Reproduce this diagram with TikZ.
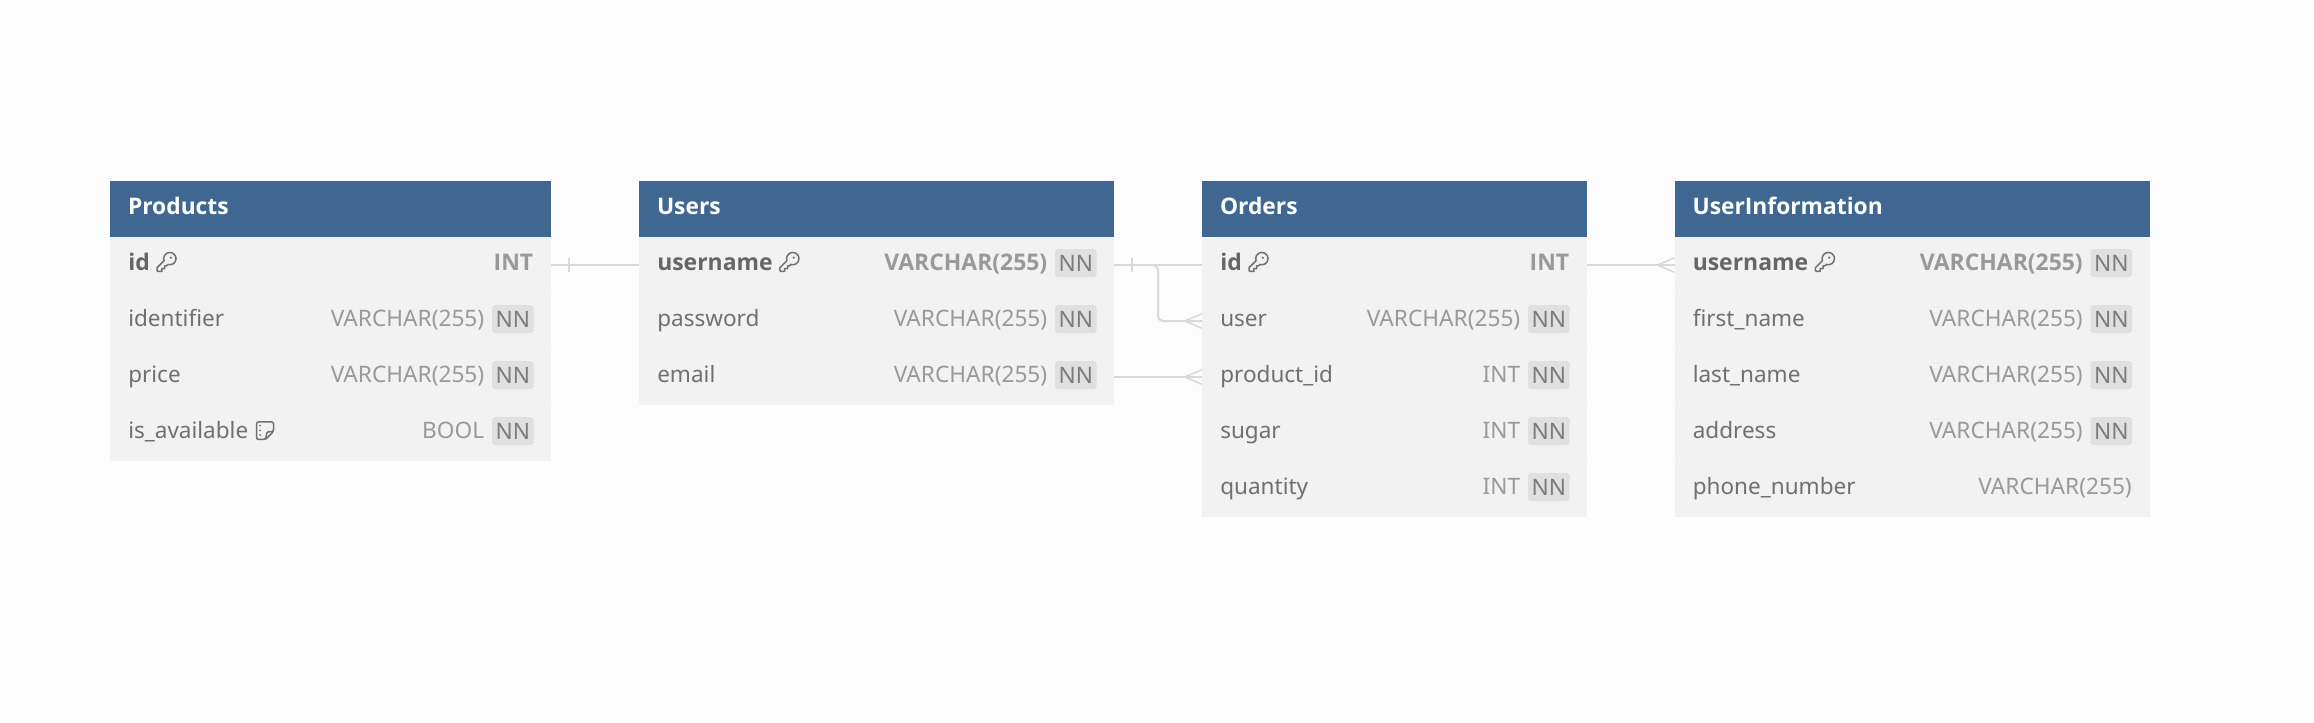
\documentclass[tikz,border=0pt]{standalone}
\usepackage{fontspec}
\setmainfont{Noto Sans}
\newfontfamily\heavyface{Open Sans}
\usetikzlibrary{calc}
\definecolor{pagebg}{HTML}{FCFCFC}
\definecolor{headblue}{HTML}{406791}
\definecolor{rowgray}{HTML}{F2F2F2}
\definecolor{rowrule}{HTML}{F4F4F4}
\definecolor{namegray}{HTML}{707070}
\definecolor{boldgray}{HTML}{666666}
\definecolor{typegray}{HTML}{999999}
\definecolor{nnfill}{HTML}{E0E0E0}
\definecolor{nngray}{HTML}{7C7C7C}
\definecolor{linkgray}{HTML}{D9D9D9}
\newcommand{\px}{0.75pt}
\tikzset{
	tabletitle/.style={fill=headblue, text=white, font=\fontsize{17.1}{20}\selectfont\heavyface\bfseries, anchor=west, align=left, inner sep=0pt, outer sep=0pt, minimum height=56*\px, text height=10.6*\px, text depth=0pt, text width=#1*\px-36*\px, inner xsep=18*\px},
	rowbox/.style={fill=rowgray, inner sep=0pt, outer sep=0pt, minimum width=#1*\px, minimum height=56*\px, anchor=west},
	fieldname/.style={text=namegray, font=\fontsize{16.9}{20}\selectfont, inner sep=0pt, anchor=base west, yshift=0.4pt},
	keyname/.style={text=boldgray, font=\fontsize{17.2}{20}\selectfont\heavyface\bfseries, inner sep=0pt, anchor=base west, yshift=0.4pt},
	typename/.style={text=typegray, font=\fontsize{17}{20}\selectfont, inner sep=0pt, anchor=base east, yshift=0.4pt},
	keytype/.style={text=typegray, font=\fontsize{17.2}{20}\selectfont\heavyface\bfseries, inner sep=0pt, anchor=base east, yshift=0.4pt},
	nnbadge/.style={fill=nnfill, text=nngray, font=\fontsize{17}{20}\selectfont, rounded corners=3*\px, inner sep=0pt, minimum width=41.5*\px, minimum height=28*\px},
	rowline/.style={draw=rowrule, line width=1*\px},
	linkline/.style={draw=linkgray, line width=2*\px},
	linkfan/.style={draw=linkgray, line width=1.5*\px},
	iconline/.style={draw=namegray, line width=1.5*\px, line join=round},
	keyicon/.pic={
			\begin{scope}[scale=.95, shift={(-12,-12)}]
				\draw[iconline] (2,18) -- (2,21) .. controls (2,21.6) and (2.4,22) .. (3,22) -- (7,22) -- (7,19) -- (10,19) -- (10,16) -- (12,16) -- (13.4,14.6) .. controls (17.58,16.04) and (22,12.92) .. (22,8.5) .. controls (22,4.91) and (19.09,2) .. (15.5,2) .. controls (11.91,2) and (9,4.91) .. (9,8.5) -- (9.4,10.6) -- cycle;
				\fill[namegray] (16.5,7.5) circle (1.3);
			\end{scope}
		},
	noteicon/.pic={
			\draw[iconline, rounded corners=2*\px] (-8.5,-8.5) -- (8.5,-8.5) -- (8.5,1) -- (0.5,9) -- (-8.5,9) -- cycle;
			\draw[iconline, rounded corners=1*\px] (8.5,1) -- (2,1.5) -- (0.5,9);
			\fill[namegray] (-5,-5) circle (1);
			\fill[namegray] (-5,0) circle (1);
			\fill[namegray] (-5,4.5) circle (1);
		}
}
\newcommand{\crowfoot}[1]{
	\draw[linkfan] ($(#1.west)+(-17,0)$) -- ($(#1.west)+(0,-7.3)$);
	\draw[linkfan] ($(#1.west)+(-17,0)$) -- ($(#1.west)+(0,7.3)$);
}
\newcommand{\onebar}[1]{
	\draw[linkfan] ($(#1.east)+(18,-7)$) -- ($(#1.east)+(18,7)$);
}
\begin{document}
\begin{tikzpicture}[x=0.75pt, y=-0.75pt]
	\fill[pagebg] (0,0) rectangle (2314,722);

	\node[tabletitle=441] (prodhead) at (110,209) {Products};
	\node[rowbox=441] (prodid) at (110,265) {};
	\node[rowbox=441] (prodident) at (110,321) {};
	\node[rowbox=441] (prodprice) at (110,377) {};
	\node[rowbox=441] (prodavail) at (110,433) {};
	\draw[rowline] (prodid.south west) -- (prodid.south east);
	\draw[rowline] (prodident.south west) -- (prodident.south east);
	\draw[rowline] (prodprice.south west) -- (prodprice.south east);
	\node[keyname] (prodidname) at (128,271) {id};
	\pic at ($(prodidname.base east)+(16.5,-8.5)$) {keyicon};
	\node[keytype] (prodidtype) at (533.5,271) {INT};
	\node[fieldname] (prodidentname) at (128,327) {identifier};
	\node[typename] (prodidenttype) at (484.5,327) {VARCHAR(255)};
	\node[nnbadge] (prodidentnn) at (512.75,319) {NN};
	\node[fieldname] (prodpricename) at (128,383) {price};
	\node[typename] (prodpricetype) at (484.5,383) {VARCHAR(255)};
	\node[nnbadge] (prodpricenn) at (512.75,375) {NN};
	\node[fieldname] (prodavailname) at (128,439) {is\_available};
	\pic at ($(prodavailname.base east)+(16.5,-8)$) {noteicon};
	\node[typename] (prodavailtype) at (484.5,439) {BOOL};
	\node[nnbadge] (prodavailnn) at (512.75,431) {NN};

	\node[tabletitle=475] (usershead) at (639,209) {Users};
	\node[rowbox=475] (usersname) at (639,265) {};
	\node[rowbox=475] (userspass) at (639,321) {};
	\node[rowbox=475] (usersmail) at (639,377) {};
	\draw[rowline] (usersname.south west) -- (usersname.south east);
	\draw[rowline] (userspass.south west) -- (userspass.south east);
	\node[keyname] (usersnametext) at (657,271) {username};
	\pic at ($(usersnametext.base east)+(16.5,-8.5)$) {keyicon};
	\node[keytype] (usersnametype) at (1047.5,271) {VARCHAR(255)};
	\node[nnbadge] (usersnamenn) at (1075.75,263) {NN};
	\node[fieldname] (userspasstext) at (657,327) {password};
	\node[typename] (userspasstype) at (1047.5,327) {VARCHAR(255)};
	\node[nnbadge] (userspassnn) at (1075.75,319) {NN};
	\node[fieldname] (usersmailtext) at (657,383) {email};
	\node[typename] (usersmailtype) at (1047.5,383) {VARCHAR(255)};
	\node[nnbadge] (usersmailnn) at (1075.75,375) {NN};

	\node[tabletitle=385] (ordershead) at (1202,209) {Orders};
	\node[rowbox=385] (ordersid) at (1202,265) {};
	\node[rowbox=385] (ordersuser) at (1202,321) {};
	\node[rowbox=385] (ordersprod) at (1202,377) {};
	\node[rowbox=385] (orderssugar) at (1202,433) {};
	\node[rowbox=385] (ordersqty) at (1202,489) {};
	\draw[rowline] (ordersid.south west) -- (ordersid.south east);
	\draw[rowline] (ordersuser.south west) -- (ordersuser.south east);
	\draw[rowline] (ordersprod.south west) -- (ordersprod.south east);
	\draw[rowline] (orderssugar.south west) -- (orderssugar.south east);
	\node[keyname] (ordersidtext) at (1220,271) {id};
	\pic at ($(ordersidtext.base east)+(16.5,-8.5)$) {keyicon};
	\node[keytype] (ordersidtype) at (1569.5,271) {INT};
	\node[fieldname] (ordersusertext) at (1220,327) {user};
	\node[typename] (ordersusertype) at (1520.5,327) {VARCHAR(255)};
	\node[nnbadge] (ordersusernn) at (1548.75,319) {NN};
	\node[fieldname] (ordersprodtext) at (1220,383) {product\_id};
	\node[typename] (ordersprodtype) at (1520.5,383) {INT};
	\node[nnbadge] (ordersprodnn) at (1548.75,375) {NN};
	\node[fieldname] (orderssugartext) at (1220,439) {sugar};
	\node[typename] (orderssugartype) at (1520.5,439) {INT};
	\node[nnbadge] (orderssugarnn) at (1548.75,431) {NN};
	\node[fieldname] (ordersqtytext) at (1220,495) {quantity};
	\node[typename] (ordersqtytype) at (1520.5,495) {INT};
	\node[nnbadge] (ordersqtynn) at (1548.75,487) {NN};

	\node[tabletitle=475.5] (infohead) at (1674.5,209) {UserInformation};
	\node[rowbox=475.5] (infoname) at (1674.5,265) {};
	\node[rowbox=475.5] (infofirst) at (1674.5,321) {};
	\node[rowbox=475.5] (infolast) at (1674.5,377) {};
	\node[rowbox=475.5] (infoaddr) at (1674.5,433) {};
	\node[rowbox=475.5] (infophone) at (1674.5,489) {};
	\draw[rowline] (infoname.south west) -- (infoname.south east);
	\draw[rowline] (infofirst.south west) -- (infofirst.south east);
	\draw[rowline] (infolast.south west) -- (infolast.south east);
	\draw[rowline] (infoaddr.south west) -- (infoaddr.south east);
	\node[keyname] (infonametext) at (1692.5,271) {username};
	\pic at ($(infonametext.base east)+(16.5,-8.5)$) {keyicon};
	\node[keytype] (infonametype) at (2083,271) {VARCHAR(255)};
	\node[nnbadge] (infonamenn) at (2111.25,263) {NN};
	\node[fieldname] (infofirsttext) at (1692.5,327) {first\_name};
	\node[typename] (infofirsttype) at (2083,327) {VARCHAR(255)};
	\node[nnbadge] (infofirstnn) at (2111.25,319) {NN};
	\node[fieldname] (infolasttext) at (1692.5,383) {last\_name};
	\node[typename] (infolasttype) at (2083,383) {VARCHAR(255)};
	\node[nnbadge] (infolastnn) at (2111.25,375) {NN};
	\node[fieldname] (infoaddrtext) at (1692.5,439) {address};
	\node[typename] (infoaddrtype) at (2083,439) {VARCHAR(255)};
	\node[nnbadge] (infoaddrnn) at (2111.25,431) {NN};
	\node[fieldname] (infophonetext) at (1692.5,495) {phone\_number};
	\node[typename] (infophonetype) at (2132,495) {VARCHAR(255)};

	\coordinate (elbow) at (1158,265);
	\draw[linkline] (prodid.east) -- (usersname.west);
	\onebar{prodid}
	\draw[linkline] (usersname.east) -- (ordersid.west);
	\onebar{usersname}
	\draw[linkline, rounded corners=5*\px] (usersname.east) -- (elbow) |- (ordersuser.west);
	\crowfoot{ordersuser}
	\draw[linkline] (usersmail.east) -- (ordersprod.west);
	\crowfoot{ordersprod}
	\draw[linkline] (ordersid.east) -- (infoname.west);
	\crowfoot{infoname}
\end{tikzpicture}
\end{document}
